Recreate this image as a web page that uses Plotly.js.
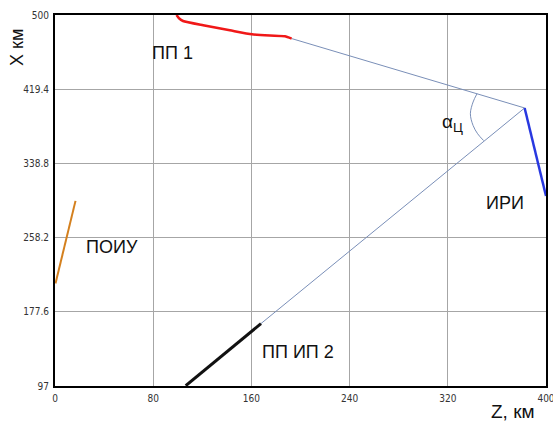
<!DOCTYPE html>
<html>
<head>
<meta charset="utf-8">
<script src="https://cdn.plot.ly/plotly-3.0.1.min.js"></script>
<style>html,body{margin:0;padding:0;background:#fff;}#chart{width:553px;height:421px;}</style>
</head>
<body>
<div id="chart"></div>
<script>
// Data (Z, km ; X, km)
const pp1Z = [99, 101, 104.3, 120.7, 142.4, 160.4, 175.1, 187.3, 192.8];
const pp1X = [500, 496.5, 493.5, 488.8, 483.4, 479.0, 477.6, 476.9, 474.4];

const iriZ = [382.6, 400];
const iriX = [399.0, 303.3];

const ray1Z = [192.8, 382.6];
const ray1X = [474.4, 399.0];

const ray2Z = [167.8, 382.6];
const ray2X = [164.8, 399.0];

const ppip2Z = [106.5, 167.8];
const ppip2X = [97.3, 164.8];

const poiuZ = [0.4, 16.7];
const poiuX = [208.4, 298.1];

const arcZ = [343.8, 340.6, 338.4, 340.6, 344.3, 349.2];
const arcX = [414.5, 405.5, 392.7, 380.0, 371.0, 363.6];

const xTicks = [0, 80, 160, 240, 320, 400];
const yTicks = [97, 177.6, 258.2, 338.8, 419.4, 500];
const yTickText = ['97', '177.6', '258.2', '338.8', '419.4', '500'];

const labelTexts = ['ПП 1', 'ИРИ', 'ПОИУ', 'ПП ИП 2', 'α<sub>Ц</sub>', 'X км', 'Z, км'];

const thin = '#7a8fb8';
const traces = [
  {x: ray1Z, y: ray1X, mode: 'lines', line: {color: thin, width: 1}},
  {x: ray2Z, y: ray2X, mode: 'lines', line: {color: thin, width: 1}},
  {x: arcZ, y: arcX, mode: 'lines', line: {color: thin, width: 1, shape: 'spline'}},
  {x: pp1Z, y: pp1X, mode: 'lines', line: {color: '#f01818', width: 2.5, shape: 'spline', smoothing: 0.5}},
  {x: iriZ, y: iriX, mode: 'lines', line: {color: '#2838e0', width: 2.5}},
  {x: ppip2Z, y: ppip2X, mode: 'lines', line: {color: '#111111', width: 3}},
  {x: poiuZ, y: poiuX, mode: 'lines', line: {color: '#d4801e', width: 2}}
];

const W = 553, H = 421, m = {l: 55, r: 7, t: 15, b: 35};
// label placement in page pixels
const place = [
  {px: 172, py: 53, size: 18, angle: 0},
  {px: 505, py: 203, size: 18, angle: 0},
  {px: 112, py: 247, size: 18, angle: 0},
  {px: 298, py: 352, size: 18, angle: 0},
  {px: 452, py: 123, size: 19, angle: 0},
  {px: 17, py: 48, size: 18, angle: -90},
  {px: 513, py: 411, size: 19, angle: 0}
];
const annotations = labelTexts.map((t, i) => ({
  text: t, showarrow: false, xref: 'paper', yref: 'paper',
  x: (place[i].px - m.l) / (W - m.l - m.r),
  y: 1 - (place[i].py - m.t) / (H - m.t - m.b),
  xanchor: 'center', yanchor: 'middle', textangle: place[i].angle,
  font: {family: 'Liberation Sans, Arial, sans-serif', size: place[i].size, color: '#111'}
}));

const axisCommon = {
  showline: true, linecolor: '#000', linewidth: 2, mirror: true,
  showgrid: true, gridcolor: '#a6a6a6', gridwidth: 1,
  zeroline: false, ticks: '', fixedrange: true, ticklabeloverflow: 'allow',
  tickfont: {family: 'DejaVu Sans Condensed, Liberation Sans Narrow, Arial, sans-serif', size: 10, color: '#333'}
};

const layout = {
  width: W, height: H, margin: m,
  paper_bgcolor: '#fff', plot_bgcolor: '#fff',
  showlegend: false, hovermode: false,
  xaxis: Object.assign({}, axisCommon, {range: [0, 400], tickvals: xTicks, ticklabelstandoff: 2}),
  yaxis: Object.assign({}, axisCommon, {range: [97, 500], tickvals: yTicks, ticktext: yTickText, ticklabelstandoff: 2}),
  annotations: annotations
};

Plotly.newPlot('chart', traces, layout, {displayModeBar: false, staticPlot: true});
</script>
</body>
</html>
